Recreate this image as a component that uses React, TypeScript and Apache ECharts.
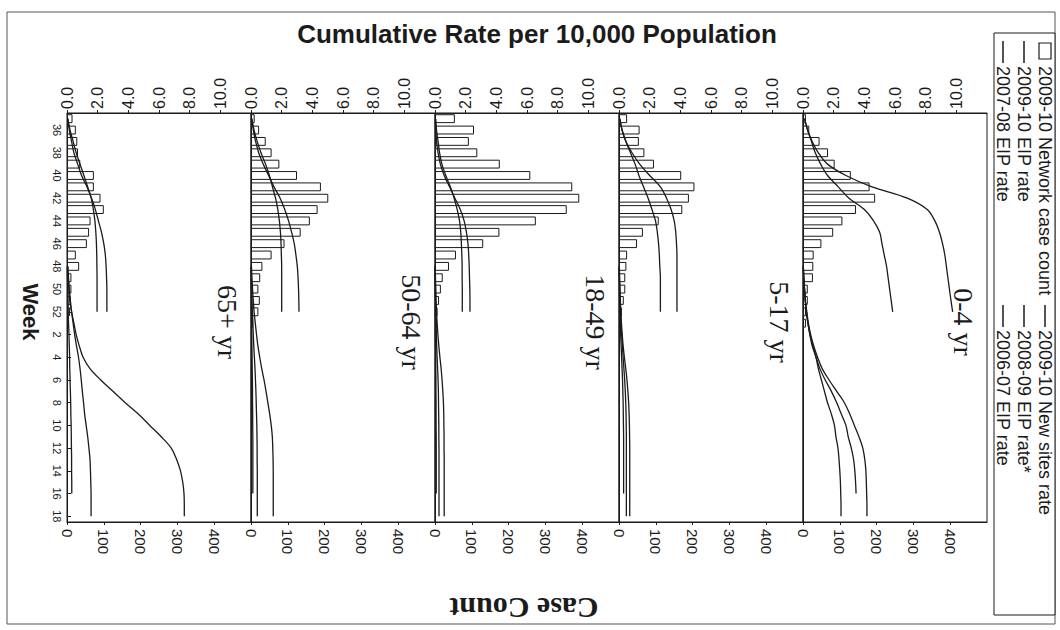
import React, { useEffect, useRef } from "react";
import * as echarts from "echarts";

// ---------- data ----------
const weeks = [
  "35", "36", "37", "38", "39", "40", "41", "42", "43", "44", "45", "46", "47", "48", "49", "50", "51", "52",
  "1", "2", "3", "4", "5", "6", "7", "8", "9", "10", "11", "12", "13", "14", "15", "16", "17", "18",
];
const panelNames = ["65+ yr", "50-64 yr", "18-49 yr", "5-17 yr", "0-4 yr"];
const seriesNames = [
  "2009-10 Network case count",
  "2009-10 EIP rate",
  "2007-08 EIP rate",
  "2009-10 New sites rate",
  "2008-09 EIP rate*",
  "2006-07 EIP rate",
];

// 2009-10 network case counts, weeks 35..52, 1
const cases65 = [15, 24, 28, 30, 36, 73, 73, 91, 100, 64, 60, 54, 24, 33, 12, 12, 10, 8, 5];
const cases5064 = [10, 22, 40, 56, 77, 125, 190, 210, 181, 160, 135, 91, 56, 31, 25, 20, 24, 20, 6];
const cases1849 = [54, 106, 92, 115, 176, 259, 373, 392, 358, 274, 175, 131, 57, 38, 21, 16, 11, 7, 5];
const cases517 = [22, 56, 54, 69, 95, 169, 205, 190, 172, 108, 65, 49, 22, 20, 17, 17, 13, 8, 5];
const cases04 = [8, 17, 45, 68, 86, 130, 181, 196, 144, 107, 82, 50, 29, 28, 27, 13, 13, 8, 8];

// 2009-10 cumulative rates, weeks 35..52
const eip65 = [0.05, 0.15, 0.3, 0.45, 0.7, 0.95, 1.3, 1.6, 1.85, 2.05, 2.25, 2.4, 2.5, 2.55, 2.58, 2.6, 2.6, 2.6];
const new65 = [0.05, 0.2, 0.4, 0.6, 0.85, 1.1, 1.35, 1.58, 1.72, 1.82, 1.88, 1.92, 1.94, 1.95, 1.96, 1.96, 1.96, 1.96];
const eip5064 = [0.05, 0.15, 0.3, 0.5, 0.8, 1.15, 1.5, 1.9, 2.2, 2.45, 2.65, 2.82, 2.93, 3.02, 3.07, 3.1, 3.12, 3.13];
const new5064 = [0.05, 0.2, 0.4, 0.65, 0.95, 1.2, 1.4, 1.6, 1.75, 1.85, 1.92, 1.96, 1.98, 2.0, 2.0, 2.0, 2.0, 2.0];
const eip1849 = [0.02, 0.05, 0.1, 0.2, 0.35, 0.6, 0.95, 1.3, 1.65, 1.9, 2.05, 2.15, 2.2, 2.23, 2.25, 2.27, 2.28, 2.28];
const new1849 = [0.05, 0.1, 0.2, 0.3, 0.45, 0.7, 1.0, 1.25, 1.45, 1.6, 1.68, 1.72, 1.75, 1.77, 1.77, 1.78, 1.78, 1.78];
const eip517 = [0.05, 0.2, 0.45, 0.85, 1.35, 2.0, 2.7, 3.1, 3.4, 3.6, 3.7, 3.75, 3.78, 3.78, 3.78, 3.78, 3.78, 3.78];
const new517 = [0.05, 0.2, 0.45, 0.75, 1.05, 1.3, 1.6, 1.9, 2.15, 2.38, 2.5, 2.58, 2.63, 2.66, 2.7, 2.7, 2.7, 2.7];
const eip04 = [0.1, 0.3, 0.6, 1.0, 1.6, 2.8, 4.5, 6.8, 8.1, 8.6, 8.9, 9.1, 9.25, 9.35, 9.45, 9.55, 9.65, 9.76];
const new04 = [0.1, 0.3, 0.55, 0.8, 1.15, 1.6, 2.3, 3.0, 4.0, 4.6, 5.0, 5.15, 5.3, 5.45, 5.55, 5.65, 5.75, 5.85];

// prior seasons, weeks 48..52, 1..18
const r0708_65 = [0.05, 0.08, 0.12, 0.18, 0.3, 0.45, 0.6, 0.8, 1.05, 1.5, 2.2, 3.0, 3.8, 4.65, 5.4, 6.15, 6.8, 7.15, 7.4, 7.55, 7.63, 7.65, 7.65];
const r0607_65 = [0.05, 0.1, 0.15, 0.22, 0.3, 0.4, 0.5, 0.62, 0.75, 0.85, 0.93, 1.0, 1.08, 1.15, 1.25, 1.35, 1.43, 1.5, 1.53, 1.55, 1.57, 1.57, 1.57];
const r0809_65 = [0.02, 0.03, 0.05, 0.07, 0.08, 0.1, 0.13, 0.15, 0.17, 0.18, 0.2, 0.22, 0.24, 0.25, 0.27, 0.28, 0.29, 0.3, 0.3, 0.31, 0.31];
const r0708_5064 = [0.03, 0.06, 0.1, 0.15, 0.2, 0.28, 0.36, 0.45, 0.57, 0.7, 0.85, 0.98, 1.1, 1.22, 1.32, 1.39, 1.42, 1.44, 1.45, 1.45, 1.45, 1.45, 1.45];
const r0607_5064 = [0.02, 0.03, 0.05, 0.07, 0.09, 0.12, 0.15, 0.18, 0.22, 0.26, 0.29, 0.32, 0.34, 0.36, 0.38, 0.39, 0.4, 0.4, 0.41, 0.41, 0.41, 0.41, 0.41];
const r0809_5064 = [0.01, 0.01, 0.02, 0.02, 0.03, 0.04, 0.05, 0.06, 0.07, 0.08, 0.09, 0.1, 0.1, 0.11, 0.11, 0.12, 0.12, 0.12, 0.12, 0.12, 0.12];
const r0708_1849 = [0.02, 0.03, 0.05, 0.07, 0.1, 0.14, 0.19, 0.25, 0.32, 0.4, 0.46, 0.51, 0.55, 0.57, 0.58, 0.59, 0.59, 0.6, 0.6, 0.6, 0.6, 0.6, 0.6];
const r0607_1849 = [0.01, 0.02, 0.03, 0.04, 0.05, 0.07, 0.09, 0.11, 0.14, 0.17, 0.2, 0.22, 0.23, 0.24, 0.25, 0.25, 0.26, 0.26, 0.26, 0.26, 0.26, 0.26, 0.26];
const r0809_1849 = [0.01, 0.01, 0.01, 0.02, 0.02, 0.03, 0.03, 0.04, 0.05, 0.05, 0.06, 0.06, 0.07, 0.07, 0.07, 0.08, 0.08, 0.08, 0.08, 0.08, 0.08];
const r0708_517 = [0.02, 0.04, 0.06, 0.09, 0.12, 0.16, 0.21, 0.27, 0.35, 0.44, 0.52, 0.58, 0.63, 0.66, 0.68, 0.69, 0.7, 0.7, 0.7, 0.7, 0.7, 0.7, 0.7];
const r0607_517 = [0.02, 0.03, 0.05, 0.07, 0.1, 0.13, 0.17, 0.22, 0.27, 0.32, 0.37, 0.41, 0.44, 0.46, 0.47, 0.48, 0.48, 0.48, 0.48, 0.48, 0.48, 0.48, 0.48];
const r0809_517 = [0.01, 0.02, 0.03, 0.05, 0.07, 0.09, 0.11, 0.14, 0.17, 0.2, 0.23, 0.25, 0.27, 0.28, 0.29, 0.3, 0.3, 0.3, 0.3, 0.3, 0.3];
const r0708_04 = [0.02, 0.05, 0.1, 0.15, 0.25, 0.35, 0.5, 0.7, 0.95, 1.25, 1.7, 2.2, 2.7, 3.05, 3.35, 3.65, 3.9, 4.03, 4.1, 4.13, 4.15, 4.17, 4.17];
const r0809_04 = [0.02, 0.05, 0.1, 0.15, 0.22, 0.32, 0.45, 0.6, 0.85, 1.1, 1.45, 1.85, 2.2, 2.5, 2.8, 2.95, 3.15, 3.3, 3.38, 3.43, 3.46];
const r0607_04 = [0.02, 0.05, 0.1, 0.15, 0.22, 0.32, 0.45, 0.65, 0.85, 1.0, 1.2, 1.4, 1.6, 1.85, 2.05, 2.15, 2.28, 2.35, 2.4, 2.44, 2.46, 2.48, 2.48];

const panelCases = [cases65, cases5064, cases1849, cases517, cases04];
const panelEip = [eip65, eip5064, eip1849, eip517, eip04];
const panelNew = [new65, new5064, new1849, new517, new04];
const panel0708 = [r0708_65, r0708_5064, r0708_1849, r0708_517, r0708_04];
const panel0809 = [r0809_65, r0809_5064, r0809_1849, r0809_517, r0809_04];
const panel0607 = [r0607_65, r0607_5064, r0607_1849, r0607_517, r0607_04];

// ---------- helpers ----------
const N = weeks.length;
const PRIOR_START = weeks.indexOf("48");
const tail = (a: (number | null)[]) => a.concat(new Array(Math.max(0, N - a.length)).fill(null));
const prior = (a: number[]) => tail((new Array(PRIOR_START).fill(null) as (number | null)[]).concat(a));

const INK = "#1b1b1b";
const SANS = "Liberation Sans, Arial, sans-serif";
const SERIF = "Liberation Serif, Times New Roman, serif";

const GRID_LEFT = 67;
const GRID_W = 184;
const GRID_TOP = 113;
const GRID_H = 409;

function buildOption() {
  const grid: any[] = [];
  const xAxis: any[] = [];
  const yAxis: any[] = [];
  const series: any[] = [];
  const graphic: any[] = [];
  const oddIdx = (i: number) => i % 2 === 1;

  panelNames.forEach((name, p) => {
    const left = GRID_LEFT + p * GRID_W;
    grid.push({
      left, top: GRID_TOP, width: GRID_W, height: GRID_H,
      show: true, borderColor: INK, borderWidth: 1, backgroundColor: "transparent",
    });
    xAxis.push({
      gridIndex: p, type: "value", position: "top", min: 0, max: 12, interval: 2,
      axisLine: { show: true, onZero: false, lineStyle: { color: INK } },
      axisTick: { show: true, length: 3, lineStyle: { color: INK } },
      splitLine: { show: false },
      axisLabel: {
        rotate: -90, margin: 4, fontSize: 16, color: INK, fontFamily: SANS,
        showMaxLabel: false, formatter: (v: number) => v.toFixed(1),
      },
    });
    xAxis.push({
      gridIndex: p, type: "value", position: "bottom", min: 0, max: 500, interval: 100,
      axisLine: { show: true, onZero: false, lineStyle: { color: INK } },
      axisTick: { show: true, length: 3, lineStyle: { color: INK } },
      splitLine: { show: false },
      axisLabel: { rotate: -90, margin: 7, fontSize: 15, color: INK, fontFamily: SANS, showMaxLabel: false },
    });
    yAxis.push({
      gridIndex: p, type: "category", data: weeks, inverse: true, boundaryGap: true,
      axisLine: { show: true, onZero: false, lineStyle: { color: INK } },
      axisTick: { show: p === 0, alignWithLabel: true, interval: oddIdx, inside: true, length: 4, lineStyle: { color: INK } },
      axisLabel: { show: p === 0, interval: oddIdx, rotate: -90, margin: 5, fontSize: 11, color: INK, fontFamily: SANS },
      splitLine: { show: false },
    });

    series.push({
      name: seriesNames[0], type: "bar", xAxisIndex: 2 * p + 1, yAxisIndex: p,
      data: tail(panelCases[p]), barWidth: "78%",
      itemStyle: { color: "#ffffff", borderColor: INK, borderWidth: 1 },
      z: 1,
    });
    const lineSets: [string, (number | null)[]][] = [
      [seriesNames[1], tail(panelEip[p])],
      [seriesNames[3], tail(panelNew[p])],
      [seriesNames[2], prior(panel0708[p])],
      [seriesNames[4], prior(panel0809[p])],
      [seriesNames[5], prior(panel0607[p])],
    ];
    lineSets.forEach(([sn, data]) => {
      series.push({
        name: sn, type: "line", xAxisIndex: 2 * p, yAxisIndex: p, data,
        smooth: 0.35, showSymbol: false, symbol: "none",
        lineStyle: { color: INK, width: 1.3 }, z: 3,
      });
    });

    graphic.push({
      type: "text", x: left + 160, y: 322, rotation: -Math.PI / 2,
      style: { text: name, fontSize: 28, fontFamily: SERIF, fill: INK, textAlign: "center", textVerticalAlign: "middle" },
    });
  });

  // title and axis titles
  graphic.push({
    type: "text", x: 537, y: 34,
    style: { text: "Cumulative Rate per 10,000 Population", fontSize: 26, fontWeight: "bold", fontFamily: SANS, fill: INK, textAlign: "center", textVerticalAlign: "middle" },
  });
  graphic.push({
    type: "text", x: 30, y: 312, rotation: -Math.PI / 2,
    style: { text: "Week", fontSize: 22, fontWeight: "bold", fontFamily: SANS, fill: INK, textAlign: "center", textVerticalAlign: "middle" },
  });
  graphic.push({
    type: "text", x: 524, y: 608, rotation: Math.PI,
    style: { text: "Case Count", fontSize: 30, fontWeight: "bold", fontFamily: SERIF, fill: INK, textAlign: "center", textVerticalAlign: "middle" },
  });

  // outer frame and legend box
  graphic.push({
    type: "rect", shape: { x: 7, y: 12, width: 1048, height: 612 },
    style: { fill: "none", stroke: "#555", lineWidth: 1 }, silent: true,
  });
  graphic.push({
    type: "rect", shape: { x: 994, y: 33, width: 61, height: 582 },
    style: { fill: "#fff", stroke: INK, lineWidth: 1 }, silent: true,
  });

  // legend (rotated clockwise)
  const rows = [10, 31, 52];
  const cols = [8, 272];
  const legendOrder = [
    [seriesNames[0], seriesNames[1], seriesNames[2]],
    [seriesNames[3], seriesNames[4], seriesNames[5]],
  ];
  const children: any[] = [];
  legendOrder.forEach((col, c) => {
    col.forEach((nm, r) => {
      const lx = cols[c];
      const ly = rows[r];
      if (nm === seriesNames[0]) {
        children.push({ type: "rect", shape: { x: lx + 2, y: ly - 6, width: 16, height: 12 }, style: { fill: "#fff", stroke: INK, lineWidth: 1.2 } });
      } else {
        children.push({ type: "line", shape: { x1: lx, y1: ly, x2: lx + 22, y2: ly }, style: { stroke: INK, lineWidth: 1.5 } });
      }
      children.push({
        type: "text", x: lx + 25, y: ly,
        style: { text: nm, fontSize: 18, fontFamily: SANS, fill: INK, textAlign: "left", textVerticalAlign: "middle" },
      });
    });
  });
  graphic.push({ type: "group", x: 1055, y: 33, rotation: -Math.PI / 2, children });

  return {
    animation: false,
    backgroundColor: "#ffffff",
    grid, xAxis, yAxis, series, graphic,
  };
}

export default function App() {
  const ref = useRef<HTMLDivElement>(null);
  useEffect(() => {
    if (!ref.current) return;
    const chart = echarts.init(ref.current, undefined, { renderer: "svg" });
    chart.setOption(buildOption() as any);
    return () => chart.dispose();
  }, []);
  return (
    <div
      ref={ref}
      style={{ position: "absolute", left: 0, top: 0, width: 1060, height: 630, background: "#fff" }}
    />
  );
}
